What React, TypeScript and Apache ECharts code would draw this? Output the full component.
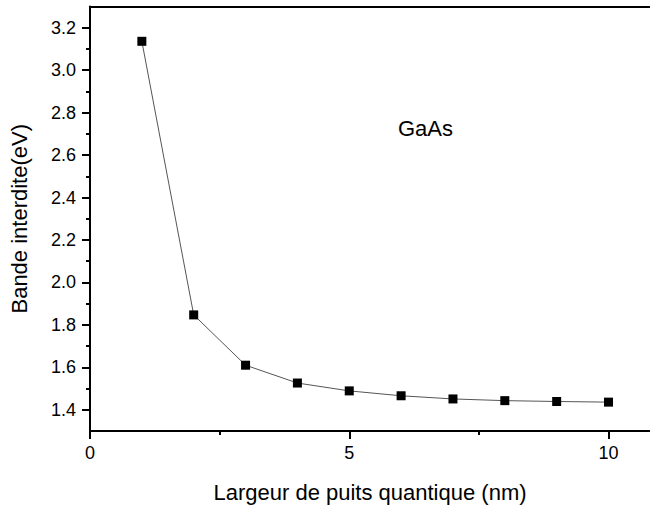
import React, { useEffect, useRef } from "react";
import * as echarts from "echarts";

const wellWidths = [1, 2, 3, 4, 5, 6, 7, 8, 9, 10];
const bandGap = [3.136, 1.847, 1.61, 1.526, 1.489, 1.466, 1.451, 1.443, 1.439, 1.436];
const xMajorTicks = [0, 5, 10];
const xMinorTicks = [2.5, 7.5];
const yMajorTicks = [1.4, 1.6, 1.8, 2.0, 2.2, 2.4, 2.6, 2.8, 3.0, 3.2];
const yMinorTicks = [1.5, 1.7, 1.9, 2.1, 2.3, 2.5, 2.7, 2.9, 3.1];
const xTitle = "Largeur de puits quantique (nm)";
const yTitle = "Bande interdite(eV)";
const annotation = "GaAs";

export default function App() {
  const ref = useRef<HTMLDivElement>(null);
  useEffect(() => {
    if (!ref.current) return;
    const chart = echarts.init(ref.current, null, { renderer: "svg" });
    const font = "'Liberation Sans', Arial, sans-serif";
    const black = "#000";
    const X_MIN = 0;
    const X_MAX = 10.8;
    const Y_MIN = 1.3;
    const Y_MAX = 3.3;
    chart.setOption({
      animation: false,
      backgroundColor: "#fff",
      grid: { left: 87, top: 6.5, bottom: 508 - 435.6, right: 0, containLabel: false },
      xAxis: [
        {
          type: "value",
          min: X_MIN,
          max: X_MAX,
          position: "bottom",
          name: xTitle,
          nameLocation: "middle",
          nameGap: 50,
          nameTextStyle: { fontFamily: font, fontSize: 22, color: black },
          axisLine: { show: true, onZero: false, lineStyle: { color: black, width: 2 } },
          axisTick: { show: true, inside: false, length: 8, customValues: xMajorTicks, lineStyle: { color: black, width: 2 } },
          axisLabel: {
            fontFamily: font,
            fontSize: 18,
            color: black,
            margin: 13,
            customValues: xMajorTicks,
          },
          splitLine: { show: false },
        },
        {
          type: "value",
          min: X_MIN,
          max: X_MAX,
          position: "bottom",
          axisLine: { show: false, onZero: false },
          axisTick: { show: true, inside: false, length: 4, customValues: xMinorTicks, lineStyle: { color: black, width: 2 } },
          axisLabel: { show: false },
          splitLine: { show: false },
        },
        {
          type: "value",
          min: X_MIN,
          max: X_MAX,
          position: "top",
          axisLine: { show: true, onZero: false, lineStyle: { color: black, width: 2 } },
          axisTick: { show: false },
          axisLabel: { show: false },
          splitLine: { show: false },
        },
      ],
      yAxis: [
        {
          type: "value",
          min: Y_MIN,
          max: Y_MAX,
          position: "left",
          name: yTitle,
          nameLocation: "middle",
          nameGap: 60,
          nameTextStyle: { fontFamily: font, fontSize: 22, color: black },
          axisLine: { show: true, onZero: false, lineStyle: { color: black, width: 2 } },
          axisTick: { show: true, inside: false, length: 8, customValues: yMajorTicks, lineStyle: { color: black, width: 2 } },
          axisLabel: {
            fontFamily: font,
            fontSize: 18,
            color: black,
            margin: 14,
            customValues: yMajorTicks,
            formatter: (v: number) => v.toFixed(1),
          },
          splitLine: { show: false },
        },
        {
          type: "value",
          min: Y_MIN,
          max: Y_MAX,
          position: "left",
          axisLine: { show: false, onZero: false },
          axisTick: { show: true, inside: false, length: 4, customValues: yMinorTicks, lineStyle: { color: black, width: 2 } },
          axisLabel: { show: false },
          splitLine: { show: false },
        },
      ],
      series: [
        {
          type: "line",
          xAxisIndex: 0,
          yAxisIndex: 0,
          data: wellWidths.map((w, i) => [w, bandGap[i]]),
          symbol: "rect",
          symbolSize: 9,
          itemStyle: { color: black },
          lineStyle: { color: "#555", width: 1 },
        },
      ],
      graphic: [
        {
          type: "text",
          x: 398,
          y: 128,
          style: {
            text: annotation,
            fontFamily: font,
            fontSize: 22,
            fill: black,
            verticalAlign: "middle",
          },
        },
      ],
    });
    return () => chart.dispose();
  }, []);
  return (
    <div
      ref={ref}
      style={{ position: "fixed", left: 0, top: 0, width: 650, height: 508, background: "#fff" }}
    />
  );
}
